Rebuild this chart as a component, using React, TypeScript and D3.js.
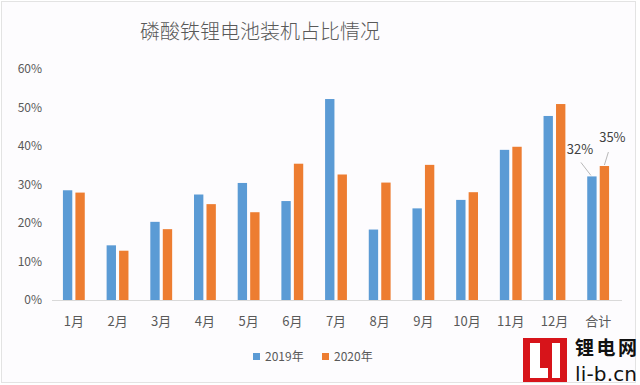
import { useEffect, useRef } from 'react';
import * as d3 from 'd3';

// 磷酸铁锂电池装机占比（%）
const categories = ['1月', '2月', '3月', '4月', '5月', '6月', '7月', '8月', '9月', '10月', '11月', '12月', '合计'];
const series2019 = [28.5, 14.2, 20.3, 27.4, 30.4, 25.7, 52.2, 18.3, 23.8, 26.0, 39.0, 47.8, 32.1];
const series2020 = [27.9, 12.8, 18.4, 24.9, 22.8, 35.4, 32.6, 30.5, 35.1, 28.0, 39.8, 50.9, 34.8];
const seriesNames = ['2019年', '2020年'];
const yTicks = [0, 10, 20, 30, 40, 50, 60];
const totalLabels = ['32%', '35%'];

const W = 640;
const H = 385;
const colors = ['#5b9bd5', '#ed7d31'];
const font = '"Noto Sans CJK SC", "Noto Sans", sans-serif';

export default function App() {
  const svgRef = useRef<SVGSVGElement>(null);

  useEffect(() => {
    if (!svgRef.current) return;
    const svg = d3.select(svgRef.current);
    svg.selectAll('*').remove();

    svg.append('rect').attr('width', W).attr('height', H).attr('fill', '#ffffff');
    svg
      .append('rect')
      .attr('x', 1.5)
      .attr('y', 1.5)
      .attr('width', 634)
      .attr('height', 381)
      .attr('fill', '#fdfcfe')
      .attr('stroke', '#e3e3e3');

    const x0 = d3.scaleBand<string>().domain(categories).range([52, 620]).paddingInner(0.5).paddingOuter(0.25);
    const x1 = d3.scaleBand<string>().domain(seriesNames).range([0, x0.bandwidth()]).paddingInner(0.25);
    const y = d3.scaleLinear().domain([0, 60]).range([300, 69]);

    // title
    svg
      .append('text')
      .attr('x', 260)
      .attr('y', 39)
      .attr('text-anchor', 'middle')
      .style('font-family', font)
      .style('font-size', '20px')
      .style('font-weight', 300)
      .style('fill', '#595959')
      .text('磷酸铁锂电池装机占比情况');

    // y tick labels
    svg
      .append('g')
      .selectAll('text')
      .data(yTicks)
      .enter()
      .append('text')
      .attr('x', 42)
      .attr('y', (d) => y(d))
      .attr('dy', '0.35em')
      .attr('text-anchor', 'end')
      .style('font-family', font)
      .style('font-size', '12px')
      .style('fill', '#595959')
      .text((d) => `${d}%`);

    // bars
    const allSeries = [series2019, series2020];
    allSeries.forEach((vals, si) => {
      svg
        .append('g')
        .selectAll('rect')
        .data(vals)
        .enter()
        .append('rect')
        .attr('x', (_d, i) => (x0(categories[i]) ?? 0) + (x1(seriesNames[si]) ?? 0))
        .attr('y', (d) => y(d))
        .attr('width', x1.bandwidth())
        .attr('height', (d) => y(0) - y(d))
        .attr('fill', colors[si]);
    });

    // baseline
    svg
      .append('line')
      .attr('x1', 52)
      .attr('x2', 622)
      .attr('y1', y(0) + 0.5)
      .attr('y2', y(0) + 0.5)
      .attr('stroke', '#d9d9d9');

    // x labels
    svg
      .append('g')
      .selectAll('text')
      .data(categories)
      .enter()
      .append('text')
      .attr('x', (d) => (x0(d) ?? 0) + x0.bandwidth() / 2)
      .attr('y', 321)
      .attr('dy', '0.35em')
      .attr('text-anchor', 'middle')
      .style('font-family', font)
      .style('font-size', '13px')
      .style('fill', '#595959')
      .text((d) => d);

    // data labels for 合计, with leader lines
    const last = categories.length - 1;
    const lastCat = categories[last];
    const offsets = [
      { lx: -11, ly: -14, tx: -12, ty: -22 },
      { lx: 4, ly: -14, tx: 8, ty: -24 },
    ];
    allSeries.forEach((vals, si) => {
      const bx = (x0(lastCat) ?? 0) + (x1(seriesNames[si]) ?? 0) + x1.bandwidth() / 2;
      const by = y(vals[last]);
      const o = offsets[si];
      svg
        .append('line')
        .attr('x1', bx - (si === 0 ? 1 : 0))
        .attr('y1', by - 1)
        .attr('x2', bx + o.lx)
        .attr('y2', by + o.ly)
        .attr('stroke', '#a6a6a6')
        .attr('stroke-width', 0.8);
      svg
        .append('text')
        .attr('x', bx + o.tx)
        .attr('y', by + o.ty)
        .attr('text-anchor', 'middle')
        .style('font-family', font)
        .style('font-size', '13px')
        .style('fill', '#404040')
        .text(totalLabels[si]);
    });

    // legend
    const legend = svg.append('g');
    const legendX = [253, 322];
    seriesNames.forEach((name, si) => {
      legend
        .append('rect')
        .attr('x', legendX[si])
        .attr('y', 353)
        .attr('width', 7)
        .attr('height', 7)
        .attr('fill', colors[si]);
      legend
        .append('text')
        .attr('x', legendX[si] + 12)
        .attr('y', 357)
        .attr('dy', '0.35em')
        .style('font-family', font)
        .style('font-size', '12px')
        .style('fill', '#595959')
        .text(name);
    });

    // watermark logo
    const logo = svg.append('g');
    logo.append('rect').attr('x', 523).attr('y', 338).attr('width', 44).attr('height', 44).attr('fill', '#d7141a');
    logo.append('rect').attr('x', 530).attr('y', 343).attr('width', 10).attr('height', 35).attr('fill', '#ffffff');
    logo.append('rect').attr('x', 530).attr('y', 368).attr('width', 18).attr('height', 10).attr('fill', '#ffffff');
    logo.append('rect').attr('x', 552).attr('y', 343).attr('width', 8).attr('height', 35).attr('fill', '#ffffff');
    logo
      .append('text')
      .attr('x', 575)
      .attr('y', 355)
      .attr('textLength', 62)
      .style('font-family', font)
      .style('font-size', '19px')
      .style('font-weight', 700)
      .style('fill', '#111111')
      .text('锂电网');
    logo
      .append('text')
      .attr('x', 575)
      .attr('y', 381)
      .attr('textLength', 62)
      .style('font-family', '"DejaVu Sans", sans-serif')
      .style('font-size', '20px')
      .style('fill', '#111111')
      .text('li-b.cn');
  }, []);

  return <svg ref={svgRef} width={W} height={H} style={{ position: 'absolute', left: 0, top: 0 }} />;
}
